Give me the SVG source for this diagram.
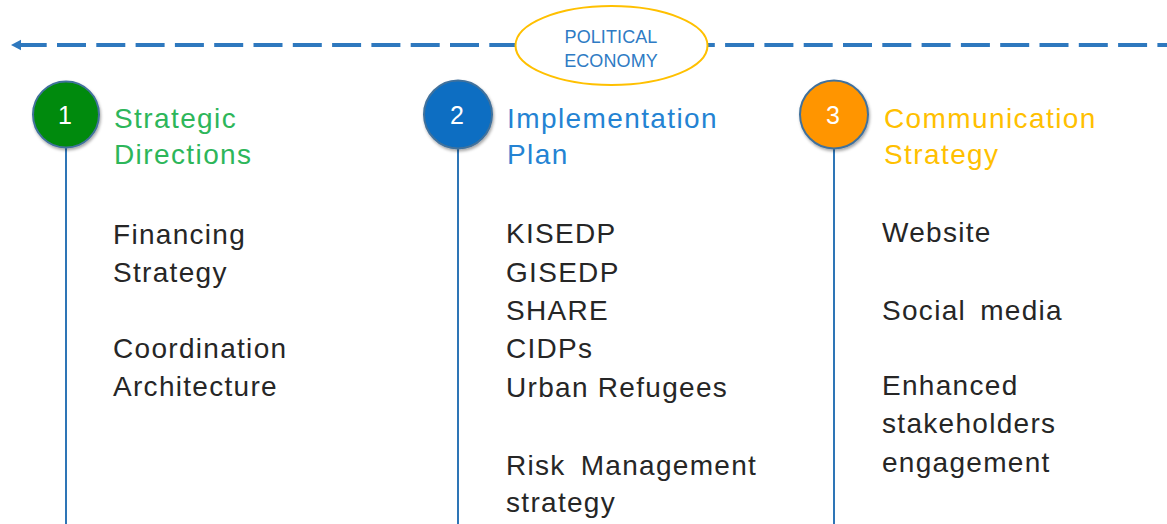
<svg xmlns="http://www.w3.org/2000/svg" width="1167" height="524" viewBox="0 0 1167 524">
<style>
.head{font-family:"Liberation Sans",Arial,sans-serif;font-size:28px;letter-spacing:1.4px}
.body{font-family:"Liberation Sans",Arial,sans-serif;font-size:28px;letter-spacing:1.3px;fill:#262626}
.num{font-family:"Liberation Sans",Arial,sans-serif;font-size:25px;fill:#ffffff;text-anchor:middle}
.pe{font-family:"Liberation Sans",Arial,sans-serif;font-size:18px;fill:#2E7BC4;text-anchor:middle;letter-spacing:0.1px}
.vline{stroke:#2E75B6;stroke-width:2;fill:none}
.badge{stroke:#41719C;stroke-width:2}
</style>
<defs>
<marker id="arrow" markerUnits="userSpaceOnUse" markerWidth="12" markerHeight="12" refX="1" refY="6" orient="auto">
<path d="M0,0.7 L10,6 L0,11.3 Z" fill="#2E78BE"/>
</marker>
<filter id="sh" x="-30%" y="-30%" width="160%" height="160%">
<feDropShadow dx="1" dy="2" stdDeviation="1.5" flood-color="#000" flood-opacity="0.35"/>
</filter>
</defs>
<g id="connectors">
<path d="M1167,45 H20" stroke="#2E78BE" stroke-width="4" fill="none" stroke-dasharray="29 10.3" stroke-dashoffset="19.4" marker-end="url(#arrow)"/>
<line class="vline" x1="66" y1="146" x2="66" y2="524"/>
<line class="vline" x1="458" y1="146" x2="458" y2="524"/>
<line class="vline" x1="834" y1="146" x2="834" y2="524"/>
</g>
<g id="political-economy">
<ellipse cx="611.5" cy="45.5" rx="96" ry="39.5" fill="#ffffff" stroke="#FFC000" stroke-width="2"/>
<text class="pe" x="611" y="43">POLITICAL</text>
<text class="pe" x="611" y="67">ECONOMY</text>
</g>
<g id="node-1">
<circle class="badge" cx="66" cy="114.5" r="33" fill="#048A08" filter="url(#sh)"/>
<text class="num" x="65" y="124">1</text>
<text class="head" x="114" y="128" fill="#2DB65A">Strategic</text>
<text class="head" x="114" y="164" fill="#2DB65A">Directions</text>
<text class="body" x="113" y="244">Financing</text>
<text class="body" x="113" y="282">Strategy</text>
<text class="body" x="113" y="358">Coordination</text>
<text class="body" x="113" y="396">Architecture</text>
</g>
<g id="node-2">
<circle class="badge" cx="458" cy="114.5" r="34" fill="#0A6EC2" filter="url(#sh)"/>
<text class="num" x="457" y="124">2</text>
<text class="head" x="507" y="128" fill="#2483D3">Implementation</text>
<text class="head" x="507" y="164" fill="#2483D3">Plan</text>
<text class="body" x="506" y="243">KISEDP</text>
<text class="body" x="506" y="282">GISEDP</text>
<text class="body" x="506" y="320">SHARE</text>
<text class="body" x="506" y="358">CIDPs</text>
<text class="body" x="506" y="397">Urban Refugees</text>
<text class="body" x="506" y="475" word-spacing="6">Risk Management</text>
<text class="body" x="506" y="512">strategy</text>
</g>
<g id="node-3">
<circle class="badge" cx="834" cy="114.5" r="34" fill="#FF9500" filter="url(#sh)"/>
<text class="num" x="833" y="124">3</text>
<text class="head" x="884" y="128" fill="#FFC000">Communication</text>
<text class="head" x="884" y="164" fill="#FFC000">Strategy</text>
<text class="body" x="882" y="242">Website</text>
<text class="body" x="882" y="320" word-spacing="5">Social media</text>
<text class="body" x="882" y="395">Enhanced</text>
<text class="body" x="882" y="433">stakeholders</text>
<text class="body" x="882" y="472">engagement</text>
</g>
</svg>
